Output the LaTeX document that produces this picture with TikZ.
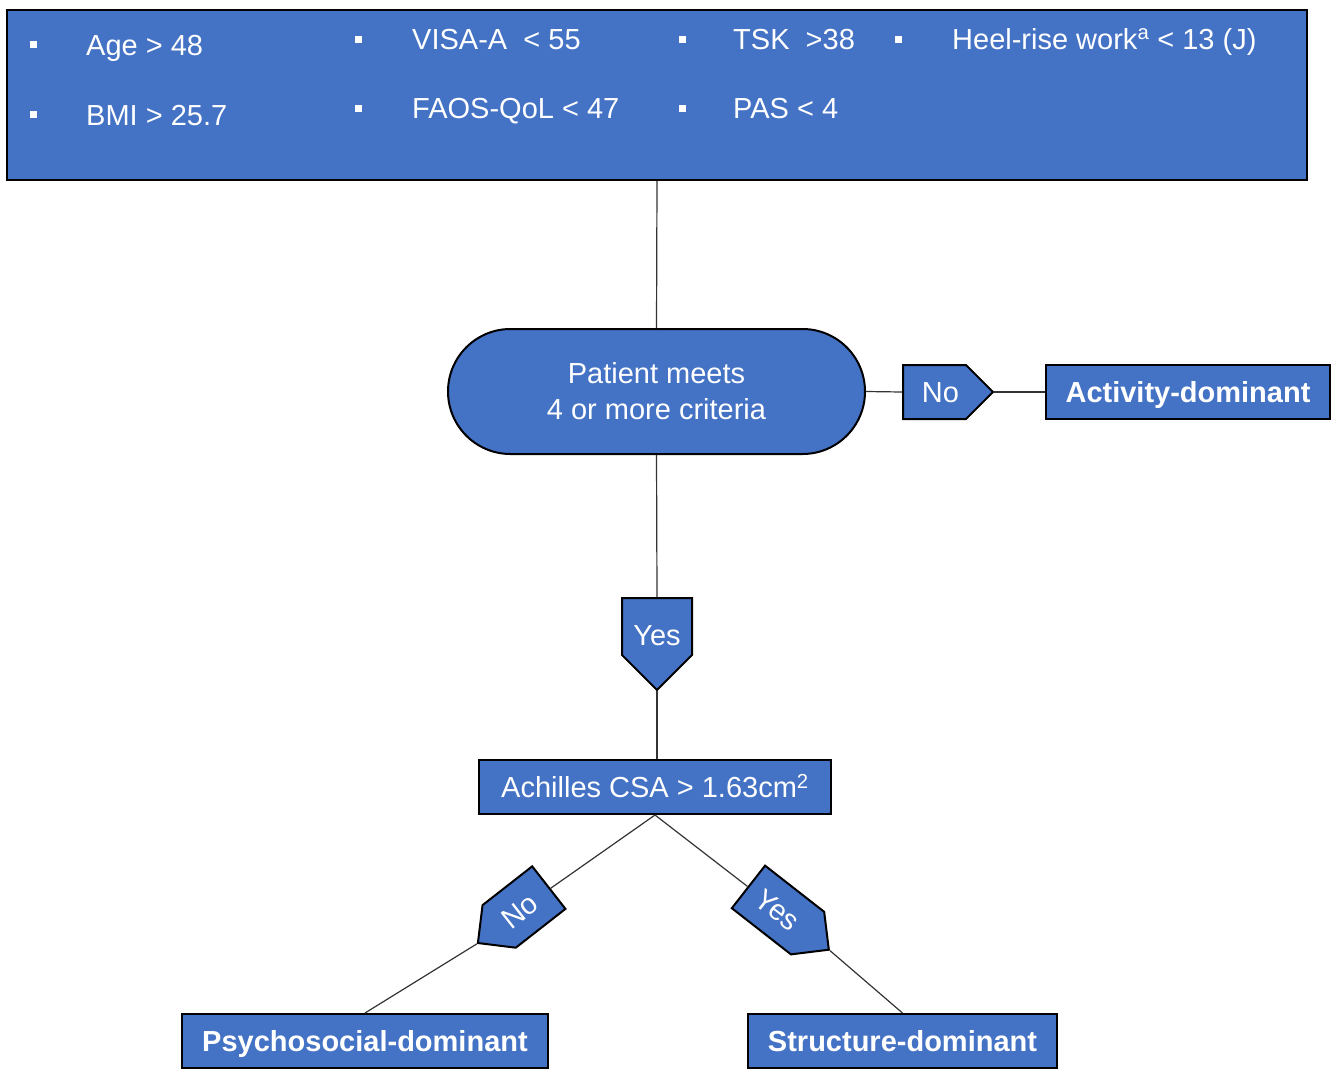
\documentclass[tikz,border=0pt]{standalone}
\usepackage{fontspec}
\setmainfont{Liberation Sans}
\usetikzlibrary{shapes.symbols,shapes.misc}
\definecolor{myblue}{RGB}{68,114,196}
\begin{document}
\begin{tikzpicture}[x=1pt,y=-1pt,
  box/.style={draw=black, line width=2pt, fill=myblue, text=white, inner sep=0pt,
    font=\fontsize{29}{35}\selectfont, text height=20.8pt, text depth=0pt},
  bbox/.style={box, font=\fontsize{29}{35}\selectfont\bfseries},
  tag/.style={shape=signal, draw=black, line width=2pt, fill=myblue, text=white,
    inner sep=0pt, align=center, font=\fontsize{29}{35}\selectfont, signal from=nowhere},
  item/.style={anchor=base west, text=white, inner sep=0pt, font=\fontsize{29}{35}\selectfont},
  bul/.style={fill=white, inner sep=0pt, minimum size=7pt},
  conn/.style={draw=black!80, line width=1.2pt}
]
\useasboundingbox (0,0) rectangle (1336,1069);

% criteria box
\node[box, minimum width=1300pt, minimum height=170pt] (top) at (657,95) {};
\node[bul] (b1) at (33,44) {};
\node[item] (t1) at (86,55) {Age > 48};
\node[bul] (b2) at (33,114) {};
\node[item] (t2) at (86,125) {BMI > 25.7};
\node[bul] (b3) at (358,39) {};
\node[item] (t3) at (412,49) {VISA-A\ \ < 55};
\node[bul] (b4) at (358,108) {};
\node[item] (t4) at (412,118) {FAOS-QoL < 47};
\node[bul] (b5) at (682,39) {};
\node[item] (t5) at (733,49) {TSK\ \ >38};
\node[bul] (b6) at (682,108) {};
\node[item] (t6) at (733,118) {PAS < 4};
\node[bul] (b7) at (898,39) {};
\node[item] (t7) at (952,49) {Heel-rise work\textsuperscript{a} < 13 (J)};

% decision
\node[draw=black, line width=2pt, fill=myblue, text=white, rounded rectangle,
  minimum width=417pt, minimum height=125pt, inner sep=0pt, align=center,
  font=\fontsize{29}{36}\selectfont] (stad) at (656.5,391.5) {Patient meets\\4 or more criteria};

\node[tag, signal to=east, text width=63pt, text height=37.4pt, text depth=16.6pt] (noA) at (934.5,392) {\hspace*{12pt}No};
\node[bbox, minimum width=284pt, minimum height=54pt] (act) at (1188,392) {Activity-dominant};

\node[tag, signal to=south, text width=70pt, text height=47pt, text depth=10pt] (yesA) at (657,626.5) {Yes};

\node[box, minimum width=352pt, minimum height=54pt] (ach) at (655,787) {Achilles CSA > 1.63cm\textsuperscript{2}};

\node[tag, signal to=west, rotate=38, text width=63pt, text height=37.4pt, text depth=16.6pt] (noB) at (524,907) {No\hspace*{12pt}};
\node[tag, signal to=east, rotate=-38, text width=75pt, text height=37.4pt, text depth=16.6pt] (yesB) at (778,910) {Yes};

\node[bbox, minimum width=366pt, minimum height=54pt] (psy) at (365,1041) {Psychosocial-dominant};
\node[bbox, minimum width=309pt, minimum height=54pt] (str) at (902.5,1041) {Structure-dominant};

% connectors
\draw[conn] (top.south) -- (stad.north);
\draw[conn] (stad.east) -- (noA.west);
\draw[conn] (noA.east) -- (act.west);
\draw[conn] (stad.south) -- (yesA.north);
\draw[conn] (yesA.south) -- (ach.north -| yesA.south);
\draw[conn] (ach.south) -- (noB);
\draw[conn] (noB.west) -- (psy.north);
\draw[conn] (ach.south) -- (yesB);
\draw[conn] (yesB.east) -- (str.north);
\end{tikzpicture}
\end{document}
